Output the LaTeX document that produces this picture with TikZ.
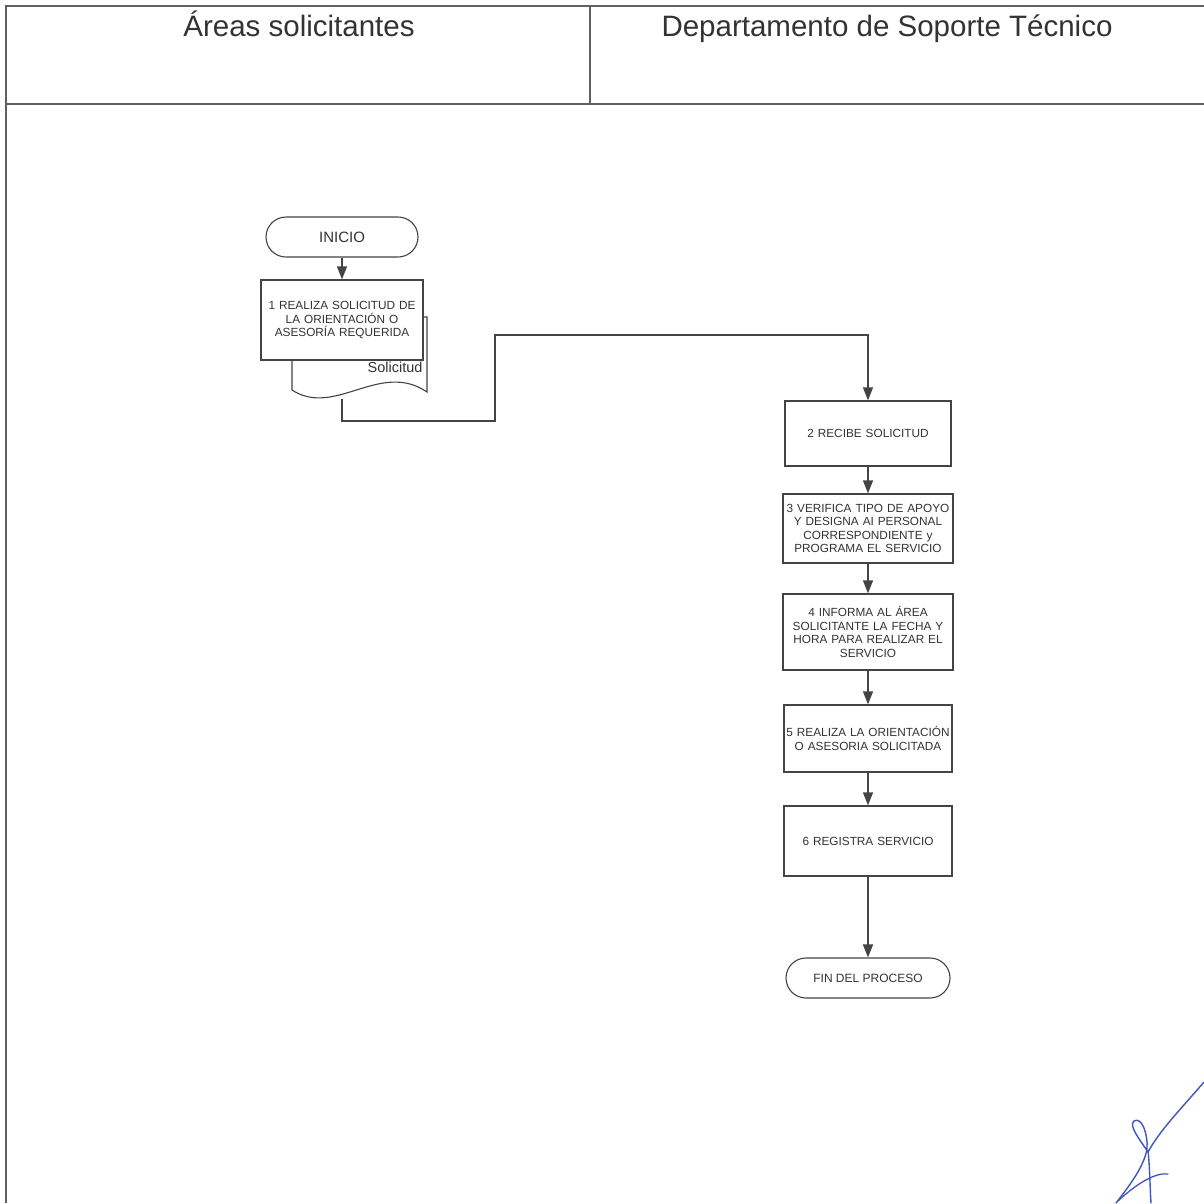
\documentclass[tikz,border=0pt]{standalone}
\usepackage{fontspec}
\setmainfont{Liberation Sans}
\usetikzlibrary{arrows.meta}
\definecolor{ink}{HTML}{444444}
\definecolor{txt}{HTML}{333333}
\definecolor{pen}{HTML}{3F55C0}
\tikzset{
  frame/.style={draw=ink!85, line width=1.6pt},
  procbox/.style={draw=ink, line width=1.3pt, fill=white, inner sep=0pt,
    text=txt, align=center, font=\fontsize{11.8}{13.6}\selectfont},
  term/.style={draw=ink, line width=1.1pt, fill=white, rounded corners=20pt,
    text=txt, font=\fontsize{15}{17}\selectfont},
  flow/.style={draw=ink, line width=1.4pt, -{Triangle[length=13pt,width=10pt]}},
  hdr/.style={text=txt, font=\fontsize{29.5}{33}\selectfont, anchor=base},
}
\begin{document}
\begin{tikzpicture}[x=1pt,y=-1pt]
\useasboundingbox (0,0) rectangle (1204,1203);
\fill[white] (0,0) rectangle (1204,1203);

% swimlane frame
\draw[frame] (6,1203) -- (6,6) -- (1204,6);
\draw[frame] (6,104) -- (1204,104);
\draw[frame] (590,6) -- (590,104);
\node[hdr] (laneA) at (299,36) {Áreas solicitantes};
\node[hdr] (laneB) at (887,36) {Departamento de Soporte Técnico};

% start
\node[term, minimum width=152pt, minimum height=40pt] (inicio) at (342,237) {INICIO};

% document "Solicitud" behind step 1
\draw[draw=ink, line width=1.1pt, fill=white]
  (292,317) -- (427,317) -- (427,392)
  .. controls (380,360) and (335,418) .. (292,390) -- cycle;
\coordinate (docbot) at (342,399);
\node[text=txt, font=\fontsize{14.5}{16}\selectfont, anchor=east] (doclbl) at (426,367) {Solicitud};

\node[procbox, minimum width=162pt, minimum height=80pt, text width=160pt] (s1) at (342,320)
  {1 REALIZA SOLICITUD DE\\LA ORIENTACIÓN O\\ASESORÍA REQUERIDA};

% technical support column
\node[procbox, minimum width=166pt, minimum height=65pt, text width=166pt] (s2) at (868,433.5)
  {2 RECIBE SOLICITUD};
\node[procbox, minimum width=170pt, minimum height=69pt, text width=170pt] (s3) at (868,528.5)
  {3 VERIFICA TIPO DE APOYO\\Y DESIGNA AI PERSONAL\\CORRESPONDIENTE y\\PROGRAMA EL SERVICIO};
\node[procbox, minimum width=170pt, minimum height=76pt, text width=170pt] (s4) at (868,632)
  {4 INFORMA AL ÁREA\\SOLICITANTE LA FECHA Y\\HORA PARA REALIZAR EL\\SERVICIO};
\node[procbox, minimum width=168pt, minimum height=67pt, text width=168pt] (s5) at (868,738.5)
  {5 REALIZA LA ORIENTACIÓN\\O ASESORIA SOLICITADA};
\node[procbox, minimum width=168pt, minimum height=70pt, text width=168pt] (s6) at (868,841)
  {6 REGISTRA SERVICIO};
\node[term, minimum width=164pt, minimum height=40pt, font=\fontsize{12}{14}\selectfont] (fin) at (868,978)
  {FIN DEL PROCESO};

% connectors
\draw[flow] (inicio) -- (s1);
\coordinate (bendA) at (495,421);
\coordinate (bendB) at (495,335);
\draw[flow] (docbot) |- (bendA) -- (bendB) -| (s2.north);
\draw[flow] (s2) -- (s3);
\draw[flow] (s3) -- (s4);
\draw[flow] (s4) -- (s5);
\draw[flow] (s5) -- (s6);
\draw[flow] (s6) -- (fin);

% signature
\draw[pen, line width=1.4pt, line cap=round, line join=round]
  (1204,1082) .. controls (1180,1110) and (1160,1130) .. (1148,1152);
\draw[pen, line width=1.4pt, line cap=round, line join=round]
  (1148,1152) .. controls (1140,1140) and (1128,1125) .. (1134,1121)
  .. controls (1142,1116) and (1148,1135) .. (1147,1148)
  .. controls (1145,1165) and (1130,1185) .. (1116,1203);
\draw[pen, line width=1.4pt, line cap=round]
  (1148,1150) .. controls (1150,1170) and (1150,1190) .. (1151,1203);
\draw[pen, line width=1.3pt, line cap=round]
  (1118,1201) .. controls (1135,1185) and (1155,1172) .. (1168,1174);
\end{tikzpicture}
\end{document}
